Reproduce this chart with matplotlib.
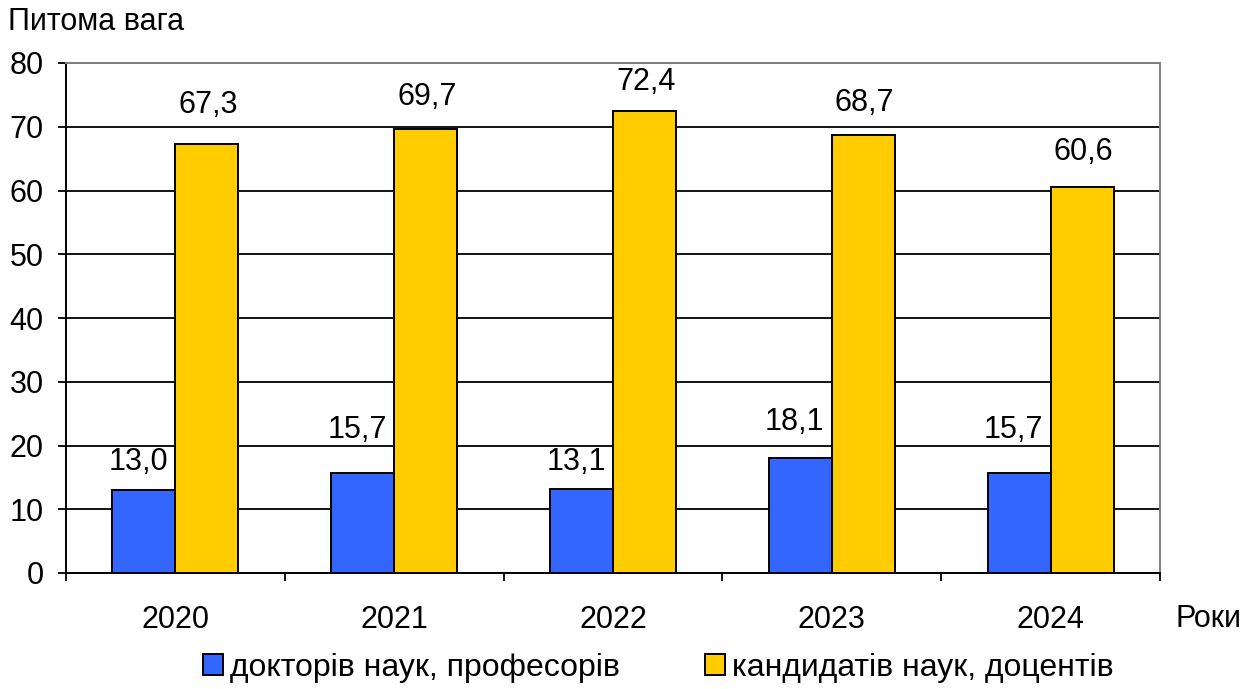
import matplotlib
matplotlib.use('Agg')
import matplotlib.pyplot as plt
import numpy as np

# ==========================================
# 1. 数据
# ==========================================
years = ['2020', '2021', '2022', '2023', '2024']
doctors = [13.0, 15.7, 13.1, 18.1, 15.7]
candidates = [67.3, 69.7, 72.4, 68.7, 60.6]
series_names = ['докторів наук, професорів', 'кандидатів наук, доцентів']
y_title = 'Питома вага'
x_title = 'Роки'

plt.rcParams['font.family'] = ['Liberation Sans', 'DejaVu Sans']
plt.rcParams['font.size'] = 22

# ==========================================
# 2. 画布
# ==========================================
fig = plt.figure(figsize=(12.52, 6.89), dpi=100)
ax = fig.add_axes([66 / 1252, 1 - 573 / 689, (1160 - 66) / 1252, (573 - 63) / 689])

x = np.arange(len(years))
w = 0.288
b1 = ax.bar(x - w / 2, doctors, w, color='#3366FF', edgecolor='black', linewidth=1.4,
            label=series_names[0], zorder=3)
b2 = ax.bar(x + w / 2, candidates, w, color='#FFCC00', edgecolor='black', linewidth=1.4,
            label=series_names[1], zorder=3)

# 数值标签（offset 单位: points）
off1 = [20, 31, 20, 26, 31]
off2 = [28, 23, 21, 23, 25]
for rect, v, dy in zip(b1, doctors, off1):
    ax.annotate(f'{v:.1f}'.replace('.', ','), (rect.get_x() + rect.get_width() / 2, v),
                xytext=(-4, dy), textcoords='offset points', ha='center', va='center', zorder=4)
for rect, v, dy in zip(b2, candidates, off2):
    ax.annotate(f'{v:.1f}'.replace('.', ','), (rect.get_x() + rect.get_width() / 2, v),
                xytext=(1, dy), textcoords='offset points', ha='center', va='center', zorder=4)

ax.set_xlim(-0.5, len(years) - 0.5)
ax.set_ylim(0, 80)
ax.set_yticks(np.arange(0, 81, 10))
ax.yaxis.grid(True, color='black', linewidth=1.3, zorder=0)
ax.set_axisbelow(True)

ax.set_xticks(x)
ax.set_xticklabels(years)
ax.set_xticks(np.arange(-0.5, len(years), 1.0), minor=True)
ax.tick_params(axis='x', which='major', length=0, pad=23)
ax.tick_params(axis='x', which='minor', length=6, width=1.3, direction='out')
ax.tick_params(axis='y', length=6, width=1.3, direction='out', pad=10)

for s in ['left', 'bottom']:
    ax.spines[s].set_color('black')
    ax.spines[s].set_linewidth(1.4)
for s in ['top', 'right']:
    ax.spines[s].set_color('#808080')
    ax.spines[s].set_linewidth(1.4)

fig.text(8 / 1252, 1 - 22 / 689, y_title, ha='left', va='center')
fig.text(1176 / 1252, 1 - 619 / 689, x_title, ha='left', va='center')

fig.legend(handles=[b1, b2], loc='center', bbox_to_anchor=(658 / 1252, 1 - 668 / 689),
           ncol=2, frameon=False, fontsize=23, handlelength=0.63, handleheight=0.63,
           handletextpad=0.22, columnspacing=2.66, borderpad=0, borderaxespad=0)

plt.savefig('out.png', dpi=100)
